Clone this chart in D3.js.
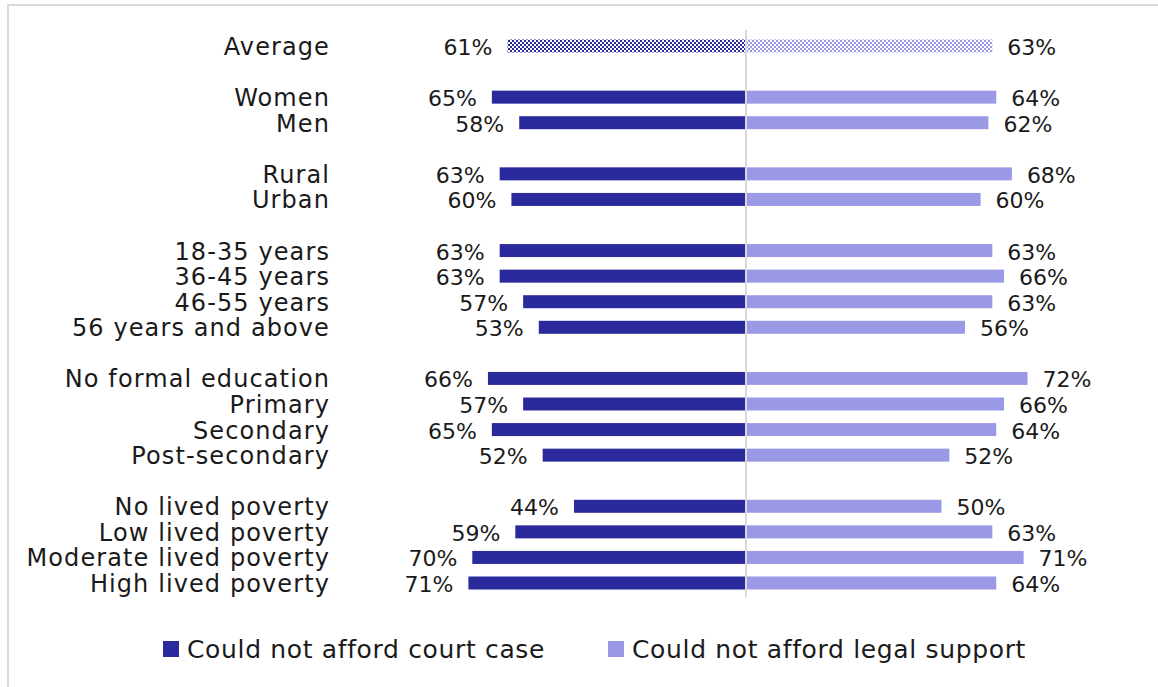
<!DOCTYPE html>
<html>
<head>
<meta charset="utf-8">
<script src="https://cdn.jsdelivr.net/npm/d3@7"></script>
<style>
  html, body { margin: 0; padding: 0; background: #fff; }
  svg { display: block; }
  text { font-family: "DejaVu Sans", sans-serif; fill: #1a1a1a; }
</style>
</head>
<body>
<svg id="chart" width="1158" height="687"></svg>
<script>
// Share of respondents who could not afford a court case / legal support, by group
const categories = [
  "Average",
  "Women", "Men",
  "Rural", "Urban",
  "18-35 years", "36-45 years", "46-55 years", "56 years and above",
  "No formal education", "Primary", "Secondary", "Post-secondary",
  "No lived poverty", "Low lived poverty", "Moderate lived poverty", "High lived poverty"
];
const groups = [0, 1, 1, 2, 2, 3, 3, 3, 3, 4, 4, 4, 4, 5, 5, 5, 5];
const courtCase = [61, 65, 58, 63, 60, 63, 63, 57, 53, 66, 57, 65, 52, 44, 59, 70, 71];
const legalSupport = [63, 64, 62, 68, 60, 63, 66, 63, 56, 72, 66, 64, 52, 50, 63, 71, 64];
const seriesNames = ["Could not afford court case", "Could not afford legal support"];

const darkColor = "#2b2a9c";
const lightColor = "#9b99e6";

const svg = d3.select("#chart");

// frame
svg.append("rect")
  .attr("x", 8).attr("y", 5)
  .attr("width", 1200).attr("height", 720)
  .attr("fill", "none").attr("stroke", "#d9d9d9").attr("stroke-width", 2);

// checker patterns for the average row
const defs = svg.append("defs");
function checker(id, color) {
  const p = defs.append("pattern").attr("id", id)
    .attr("patternUnits", "userSpaceOnUse").attr("width", 4).attr("height", 4);
  p.append("rect").attr("width", 4).attr("height", 4).attr("fill", "#fff");
  p.append("rect").attr("x", 0).attr("y", 0).attr("width", 2).attr("height", 2).attr("fill", color);
  p.append("rect").attr("x", 2).attr("y", 2).attr("width", 2).attr("height", 2).attr("fill", color);
}
checker("chkDark", darkColor);
checker("chkLight", lightColor);

const center = 746;
const xLeft = d3.scaleLinear().domain([0, 100]).range([center, center - 391]);
const xRight = d3.scaleLinear().domain([0, 100]).range([center, center + 391]);
// slot = row index plus one blank slot per preceding group
const y = d3.scaleLinear().domain([0, 21]).range([46, 583]);
const slot = i => i + groups[i];
const barH = 13;

const rows = categories.map((c, i) => ({ c, i, court: courtCase[i], legal: legalSupport[i], yc: y(slot(i)) }));

const g = svg.append("g");

g.selectAll("rect.court").data(rows).join("rect")
  .attr("class", "court")
  .attr("x", d => xLeft(d.court))
  .attr("y", d => d.yc - barH / 2)
  .attr("width", d => xLeft(0) - xLeft(d.court))
  .attr("height", barH)
  .attr("fill", d => d.i === 0 ? "url(#chkDark)" : darkColor);

g.selectAll("rect.legal").data(rows).join("rect")
  .attr("class", "legal")
  .attr("x", xRight(0))
  .attr("y", d => d.yc - barH / 2)
  .attr("width", d => xRight(d.legal) - xRight(0))
  .attr("height", barH)
  .attr("fill", d => d.i === 0 ? "url(#chkLight)" : lightColor);

// center axis
svg.append("line")
  .attr("x1", center).attr("x2", center)
  .attr("y1", 30).attr("y2", 597)
  .attr("stroke", "#d9d9d9").attr("stroke-width", 2);

// category labels
g.selectAll("text.cat").data(rows).join("text")
  .attr("class", "cat")
  .attr("x", 330).attr("y", d => d.yc + 9)
  .attr("text-anchor", "end")
  .style("font-size", "24px")
  .style("letter-spacing", "1.1px")
  .text(d => d.c);

// value labels
g.selectAll("text.vl").data(rows).join("text")
  .attr("class", "vl")
  .attr("x", d => xLeft(d.court) - 15).attr("y", d => d.yc + 9)
  .attr("text-anchor", "end")
  .style("font-size", "22px")
  .text(d => d.court + "%");

g.selectAll("text.vr").data(rows).join("text")
  .attr("class", "vr")
  .attr("x", d => xRight(d.legal) + 15).attr("y", d => d.yc + 9)
  .attr("text-anchor", "start")
  .style("font-size", "22px")
  .text(d => d.legal + "%");

// legend
const legend = svg.append("g");
const legendItems = [
  { name: seriesNames[0], color: darkColor, x: 163 },
  { name: seriesNames[1], color: lightColor, x: 608 }
];
legendItems.forEach(it => {
  legend.append("rect").attr("x", it.x).attr("y", 641).attr("width", 16).attr("height", 16).attr("fill", it.color);
  legend.append("text").attr("x", it.x + 24).attr("y", 658)
    .style("font-size", "25px").style("letter-spacing", "0.65px").text(it.name);
});
</script>
</body>
</html>
